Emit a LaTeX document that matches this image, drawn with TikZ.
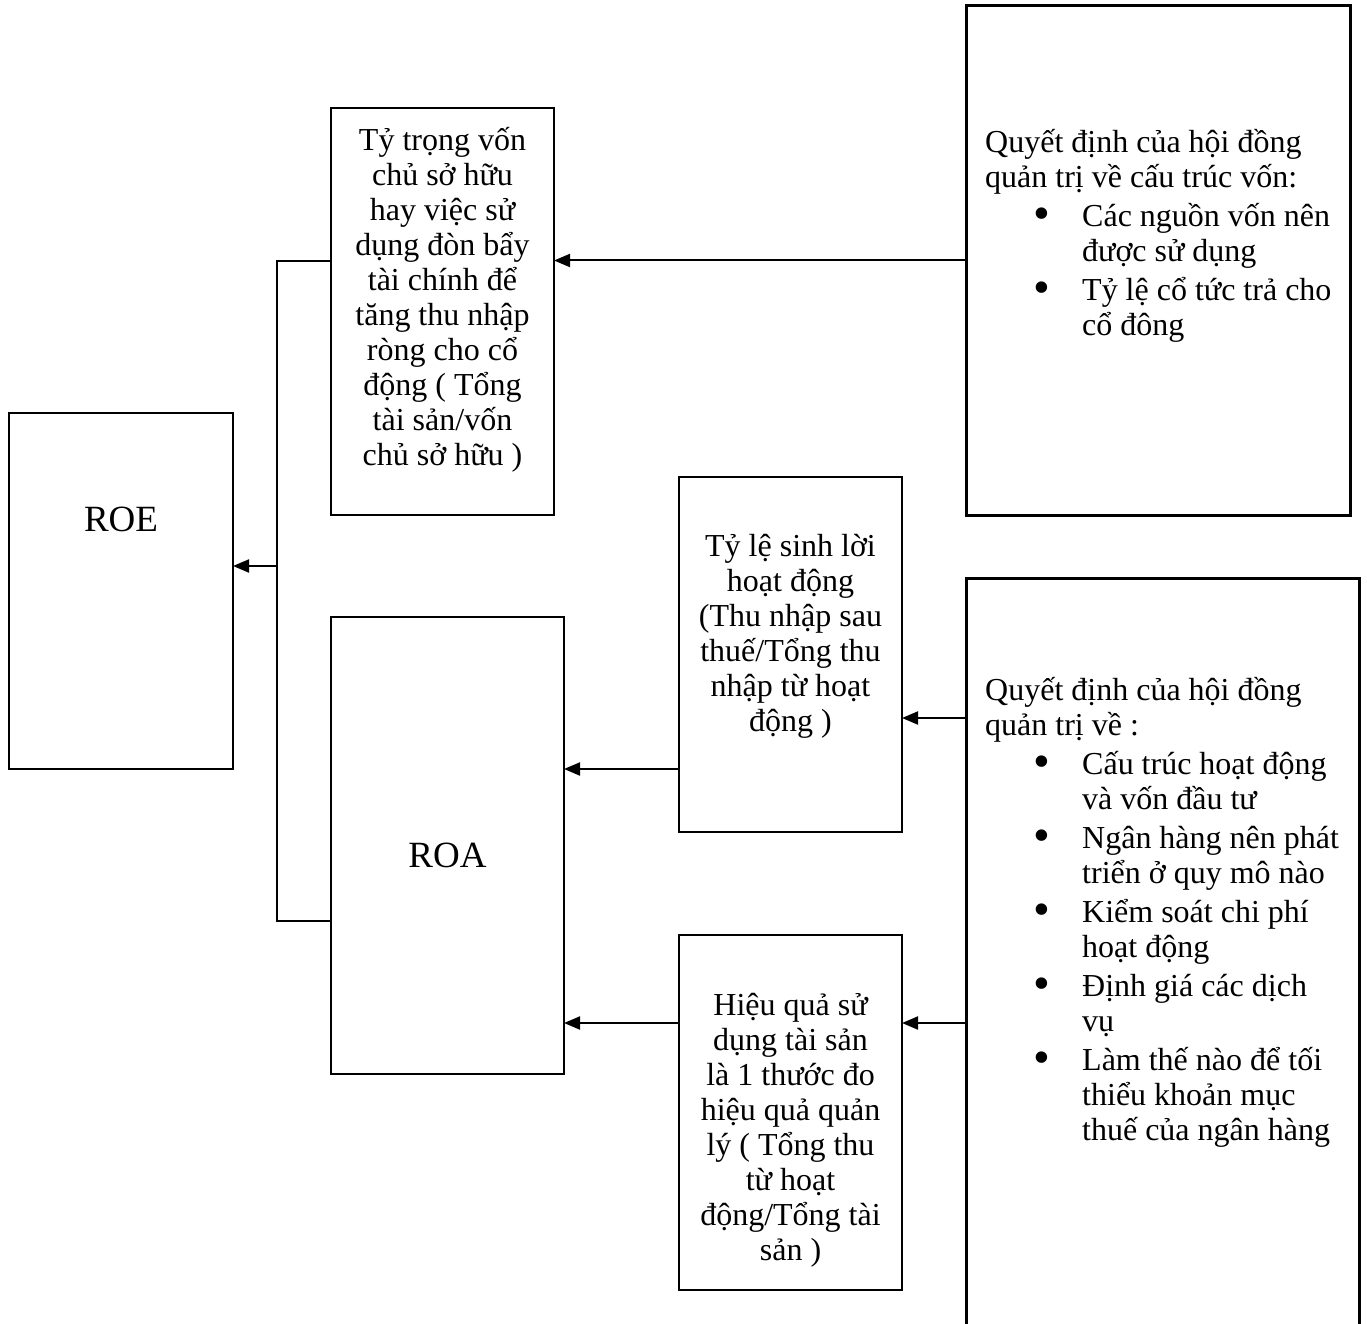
\documentclass[tikz,border=0pt]{standalone}
\usepackage{fontspec}
\usepackage{graphicx}
\setmainfont{Liberation Serif}
\usetikzlibrary{arrows.meta}
% bullet with hanging indent for the decision lists
\newcommand\bulitem{\makebox[97pt][l]{\hspace*{48pt}\raisebox{-3.5pt}{\scalebox{1.5}{\textbullet}}}}
\newcommand\bulind{\hspace*{97pt}}
% fixes the top of a text block relative to its first baseline
\newcommand\topstrut{\rule{0pt}{31pt}}
% body text: fixed line pitch, even with stacked accents
\newcommand\bodyfont{\fontsize{32}{35}\selectfont\setlength{\lineskiplimit}{-40pt}}
\begin{document}
\begin{tikzpicture}[x=1pt,y=-1pt,
  box/.style={draw, line width=2pt, inner sep=0pt, outer sep=0pt},
  bigbox/.style={box, line width=3pt},
  body/.style={inner sep=0pt, font=\bodyfont},
  ctext/.style={body, align=center, anchor=north},
  ltext/.style={body, align=left, anchor=north west},
  bigtext/.style={inner sep=0pt, font=\fontsize{37}{40}\selectfont, anchor=base},
  arr/.style={line width=2pt, -{Triangle[length=16pt,width=13pt]}},
  wire/.style={line width=2pt}]
\useasboundingbox (0,0) rectangle (1367,1324);

% boxes
\node[box, minimum width=224pt, minimum height=356pt] (roe) at (121,591) {};
\node[box, minimum width=223pt, minimum height=407pt] (equity) at (442.5,311.5) {};
\node[box, minimum width=233pt, minimum height=457pt] (roa) at (447.5,845.5) {};
\node[box, minimum width=223pt, minimum height=355pt] (profit) at (790.5,654.5) {};
\node[box, minimum width=223pt, minimum height=355pt] (assetuse) at (790.5,1112.5) {};
\node[bigbox, minimum width=384pt, minimum height=509pt] (capdec) at (1158,260.5) {};
\node[inner sep=0pt, outer sep=0pt, minimum width=393pt, minimum height=752pt] (opdec) at (1162.5,954) {};
\draw[line width=3pt] (opdec.south west) -- (opdec.north west) -- (opdec.north east) -- (opdec.south east);

% texts
\node[bigtext] (roet) at (121,531) {ROE};
\node[bigtext] (roat) at (447.5,867) {ROA};
\node[ctext] (equityt) at (442.5,119) {\topstrut Tỷ trọng vốn\\chủ sở hữu\\hay việc sử\\dụng đòn bẩy\\tài chính để\\tăng thu nhập\\ròng cho cổ\\động ( Tổng\\tài sản/vốn\\chủ sở hữu )};
\node[ctext] (profitt) at (790.5,525) {\topstrut Tỷ lệ sinh lời\\hoạt động\\(Thu nhập sau\\thuế/Tổng thu\\nhập từ hoạt\\động )};
\node[ctext] (assetuset) at (790.5,984) {\topstrut Hiệu quả sử\\dụng tài sản\\là 1 thước đo\\hiệu quả quản\\lý ( Tổng thu\\từ hoạt\\động/Tổng tài\\sản )};
\node[ltext] (capdect) at (985,121) {\topstrut Quyết định của hội đồng\\quản trị về cấu trúc vốn:\\[4pt]\bulitem Các nguồn vốn nên\\\bulind được sử dụng\\[4pt]\bulitem Tỷ lệ cổ tức trả cho\\\bulind cổ đông};
\node[ltext] (opdect) at (985,669) {\topstrut Quyết định của hội đồng\\quản trị về :\\[4pt]\bulitem Cấu trúc hoạt động\\\bulind và vốn đầu tư\\[4pt]\bulitem Ngân hàng nên phát\\\bulind triển ở quy mô nào\\[4pt]\bulitem Kiểm soát chi phí\\\bulind hoạt động\\[4pt]\bulitem Định giá các dịch\\\bulind vụ\\[4pt]\bulitem Làm thế nào để tối\\\bulind thiểu khoản mục\\\bulind thuế của ngân hàng};

% connectors
\draw[arr] (capdec.west) -- (capdec.west -| equity.east);
\draw[arr] (opdec.west |- 0,718) -- (profit.east |- 0,718);
\draw[arr] (opdec.west |- 0,1023) -- (assetuse.east |- 0,1023);
\draw[arr] (profit.west |- 0,769) -- (roa.east |- 0,769);
\draw[arr] (assetuse.west |- 0,1023) -- (roa.east |- 0,1023);
\coordinate (jt) at (277,261);
\coordinate (jb) at (277,921);
\draw[wire] (equity.west |- jt) -- (jt) -- (jb) -- (roa.west |- jb);
\draw[arr] (277,566) -- (roe.east |- 0,566);
\end{tikzpicture}
\end{document}
